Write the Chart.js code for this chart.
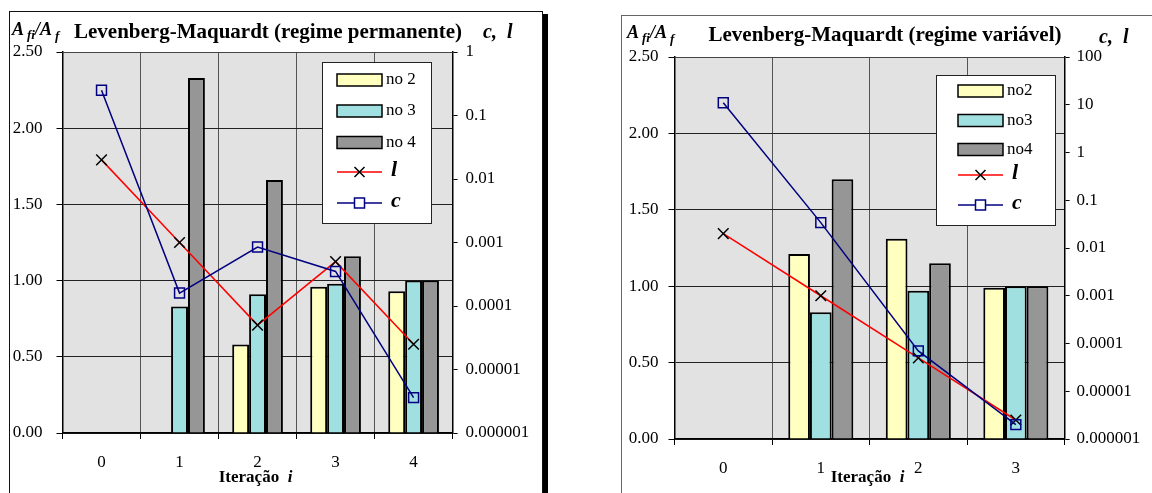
<!DOCTYPE html>
<html>
<head>
<meta charset="utf-8">
<script src="https://cdn.jsdelivr.net/npm/chart.js@4/dist/chart.umd.min.js"></script>
<style>
  html, body { margin:0; padding:0; background:#fff; }
  body { width:1152px; height:493px; overflow:hidden; position:relative; }
  .abs { position:absolute; }
</style>
</head>
<body>
<div class="abs" style="left:9px;top:11px;width:532px;height:520px;border:1px solid #111;"></div>
<div class="abs" style="left:543px;top:14px;width:5px;height:490px;background:#000;"></div>
<canvas id="c1" class="abs" width="532" height="481" style="left:10px;top:12px;"></canvas>
<div class="abs" style="left:621px;top:15px;width:600px;height:520px;border:1px solid #666;"></div>
<canvas id="c2" class="abs" width="530" height="477" style="left:622px;top:16px;"></canvas>
<script>
// ---------- data ----------
const iterLeft = ['0', '1', '2', '3', '4'];
const no2Left = [null, null, 0.58, 0.96, 0.93];
const no3Left = [null, 0.83, 0.91, 0.98, 1.00];
const no4Left = [null, 2.33, 1.66, 1.16, 1.00];
const lLeft = [0.02, 0.001, 0.00005, 0.0005, 0.000025];
const cLeft = [0.25, 0.00016, 0.00085, 0.00035, 0.0000036];

const iterRight = ['0', '1', '2', '3'];
const no2Right = [null, 1.21, 1.31, 0.99];
const no3Right = [null, 0.83, 0.97, 1.00];
const no4Right = [null, 1.70, 1.15, 1.00];
const lRight = [0.02, 0.001, 0.00005, 0.0000025];
const cRight = [11, 0.034, 0.00007, 0.000002];

const ratioTicks = ['0.00', '0.50', '1.00', '1.50', '2.00', '2.50'];
const logTicksLeft = ['1', '0.1', '0.01', '0.001', '0.0001', '0.00001', '0.000001'];
const logTicksRight = ['100', '10', '1', '0.1', '0.01', '0.001', '0.0001', '0.00001', '0.000001'];

const titleLeft = 'Levenberg-Maquardt (regime permanente)';
const titleRight = 'Levenberg-Maquardt (regime variável)';
const labelsLeft = ['no 2', 'no 3', 'no 4', 'l', 'c'];
const labelsRight = ['no2', 'no3', 'no4', 'l', 'c'];

// ---------- style ----------
const FONT = '"Liberation Serif", "Times New Roman", serif';
Chart.defaults.font.family = FONT;
Chart.defaults.color = '#000';
const COL_NO2 = '#FFFFC0', COL_NO3 = '#A0E0E0', COL_NO4 = '#969696';
const COL_L = '#FF0000', COL_C = '#000080';
const PLOT_BG = '#e2e2e2';

function drawRatioLabel(ctx, x, y) {
  ctx.textAlign = 'left'; ctx.textBaseline = 'alphabetic'; ctx.fillStyle = '#000';
  const big = 'italic bold 18px ' + FONT, small = 'italic bold 13px ' + FONT;
  ctx.font = big; ctx.fillText('A', x, y); x += ctx.measureText('A').width + 3;
  ctx.font = small; ctx.fillText('fi', x, y + 4); x += ctx.measureText('fi').width;
  ctx.font = big; ctx.fillText('/A', x, y); x += ctx.measureText('/A').width + 3;
  ctx.font = small; ctx.fillText('f', x, y + 5);
}

function decoPlugin(p) {
  return {
    id: 'deco',
    beforeDraw(chart) {
      const a = chart.chartArea, ctx = chart.ctx;
      ctx.save();
      ctx.fillStyle = PLOT_BG;
      ctx.fillRect(a.left, a.top, a.right - a.left, a.bottom - a.top);
      ctx.restore();
    },
    beforeDatasetsDraw(chart) {
      const a = chart.chartArea, ctx = chart.ctx;
      ctx.save();
      ctx.strokeStyle = '#444'; ctx.lineWidth = 1;
      ctx.beginPath(); ctx.moveTo(a.left, a.top + 0.5); ctx.lineTo(a.right, a.top + 0.5); ctx.stroke();
      ctx.restore();
    },
    afterDraw(chart) {
      const ctx = chart.ctx, a = chart.chartArea;
      ctx.save();
      // headers
      drawRatioLabel(ctx, p.ratioX, p.headY);
      ctx.font = 'bold 21px ' + FONT; ctx.textAlign = 'center'; ctx.fillStyle = '#000';
      ctx.fillText(p.title, p.titleX, p.titleY);
      ctx.font = 'italic bold 20px ' + FONT; ctx.textAlign = 'left';
      ctx.fillText('c,', p.clX, p.clY);
      ctx.fillText('l', p.clX + 24, p.clY);
      // x axis title
      ctx.font = 'bold 17px ' + FONT;
      const w1 = ctx.measureText('Iteração  ').width;
      ctx.font = 'italic bold 17px ' + FONT;
      const w2 = ctx.measureText('i').width;
      const cx = (a.left + a.right) / 2 - 2;
      let x0 = cx - (w1 + w2) / 2;
      ctx.font = 'bold 17px ' + FONT; ctx.fillText('Iteração  ', x0, p.xtY);
      ctx.font = 'italic bold 17px ' + FONT; ctx.fillText('i', x0 + w1, p.xtY);
      // legend
      const L = p.legend;
      ctx.fillStyle = '#fff'; ctx.fillRect(L.x, L.y, L.w, L.h);
      ctx.strokeStyle = '#222'; ctx.lineWidth = 1;
      ctx.strokeRect(L.x + 0.5, L.y + 0.5, L.w, L.h);
      chart.data.datasets.forEach((ds, i) => {
        const cy = L.rows[i];
        ctx.textBaseline = 'middle'; ctx.textAlign = 'left';
        if (ds.type === 'line') {
          ctx.strokeStyle = ds.borderColor; ctx.lineWidth = 1.5;
          ctx.beginPath(); ctx.moveTo(L.sx0, cy); ctx.lineTo(L.sx1, cy); ctx.stroke();
          const mx = (L.sx0 + L.sx1) / 2;
          ctx.strokeStyle = ds.pointBorderColor; ctx.lineWidth = 1.5;
          if (ds.pointStyle === 'crossRot') {
            ctx.beginPath();
            ctx.moveTo(mx - 5, cy - 5); ctx.lineTo(mx + 5, cy + 5);
            ctx.moveTo(mx + 5, cy - 5); ctx.lineTo(mx - 5, cy + 5);
            ctx.stroke();
          } else {
            ctx.fillStyle = '#fff'; ctx.fillRect(mx - 5, cy - 5, 10, 10);
            ctx.strokeRect(mx - 5, cy - 5, 10, 10);
          }
          ctx.fillStyle = '#000'; ctx.font = 'italic bold 22px ' + FONT;
          ctx.fillText(ds.label, L.tx + 5, cy - 2);
        } else {
          ctx.fillStyle = ds.backgroundColor;
          ctx.fillRect(L.sx0, cy - 6, L.sx1 - L.sx0, 12);
          ctx.strokeStyle = '#000'; ctx.lineWidth = 1.5;
          ctx.strokeRect(L.sx0, cy - 6, L.sx1 - L.sx0, 12);
          ctx.fillStyle = '#000'; ctx.font = '17px ' + FONT;
          ctx.fillText(ds.label, L.tx, cy);
        }
      });
      ctx.restore();
    }
  };
}

function makeChart(id, cfg) {
  const logVals = cfg.logTicks.map(parseFloat);
  const datasets = [
    { type: 'bar', label: cfg.labels[0], data: cfg.no2, backgroundColor: COL_NO2, borderColor: '#000', borderWidth: 2, yAxisID: 'y', order: 3 },
    { type: 'bar', label: cfg.labels[1], data: cfg.no3, backgroundColor: COL_NO3, borderColor: '#000', borderWidth: 2, yAxisID: 'y', order: 3 },
    { type: 'bar', label: cfg.labels[2], data: cfg.no4, backgroundColor: COL_NO4, borderColor: '#000', borderWidth: 2, yAxisID: 'y', order: 3 },
    { type: 'line', label: cfg.labels[3], data: cfg.l, borderColor: COL_L, borderWidth: 1.5, yAxisID: 'y1', order: 2,
      pointStyle: 'crossRot', pointRadius: 7.5, pointBorderColor: '#000', pointBorderWidth: 1.5, pointBackgroundColor: 'rgba(0,0,0,0)', fill: false, tension: 0 },
    { type: 'line', label: cfg.labels[4], data: cfg.c, borderColor: COL_C, borderWidth: 1.5, yAxisID: 'y1', order: 1,
      pointStyle: 'rect', pointRadius: 7, pointBorderColor: COL_C, pointBorderWidth: 1.5, pointBackgroundColor: 'rgba(0,0,0,0)', fill: false, tension: 0 }
  ];
  datasets.slice(0, 3).forEach(d => { d.categoryPercentage = cfg.catPct; d.barPercentage = 1.0; });
  return new Chart(document.getElementById(id), {
    data: { labels: cfg.categories, datasets },
    options: {
      responsive: false, animation: false, devicePixelRatio: 1,
      layout: { padding: { top: cfg.padTop, left: 0, right: 0, bottom: 0 } },
      plugins: { legend: { display: false }, tooltip: { enabled: false }, title: { display: false } },
      scales: {
        x: {
          type: 'category', offset: true,
          grid: { offset: true, color: '#555', lineWidth: 1, drawTicks: true, tickLength: 6, tickColor: '#000' },
          border: { display: true, color: '#000', width: 1.5 },
          ticks: { color: '#000', font: { size: 17 }, padding: 13, maxRotation: 0 },
          afterFit: s => { s.height = cfg.xHeight; }
        },
        y: {
          type: 'linear', position: 'left', min: 0, max: 2.5,
          afterBuildTicks: s => { s.ticks = cfg.ratioTicks.map(t => ({ value: parseFloat(t) })); },
          ticks: { color: '#000', font: { size: 17 }, padding: cfg.yPad,
            callback: (v) => cfg.ratioTicks.find(t => Math.abs(parseFloat(t) - v) < 1e-9) },
          grid: { color: '#222', lineWidth: 1, tickLength: 6, tickColor: '#000' },
          border: { display: true, color: '#000', width: 1.5 },
          afterFit: s => { s.width = cfg.yWidth; }
        },
        y1: {
          type: 'logarithmic', position: 'right', min: logVals[logVals.length - 1], max: logVals[0],
          afterBuildTicks: s => { s.ticks = logVals.slice().reverse().map(v => ({ value: v, major: true })); },
          ticks: { color: '#000', font: { size: 17 }, padding: cfg.y1Pad, autoSkip: false,
            callback: (v) => cfg.logTicks.find(t => Math.abs(Math.log10(parseFloat(t)) - Math.log10(v)) < 1e-6) },
          grid: { drawOnChartArea: false, tickLength: 5, tickColor: '#000' },
          border: { display: true, color: '#000', width: 1.5 },
          afterFit: s => { s.width = cfg.y1Width; }
        }
      }
    },
    plugins: [decoPlugin(cfg.deco)]
  });
}

makeChart('c1', {
  categories: iterLeft, no2: no2Left, no3: no3Left, no4: no4Left, l: lLeft, c: cLeft,
  labels: labelsLeft, ratioTicks: ratioTicks, logTicks: logTicksLeft, catPct: 0.65,
  padTop: 40, xHeight: 60, yWidth: 52.5, y1Width: 89.4, yPad: 14, y1Pad: 8,
  deco: { title: titleLeft, titleX: 258, titleY: 26, ratioX: 2, headY: 23, clX: 473, clY: 26, xtY: 470,
    legend: { x: 312, y: 50, w: 109, h: 161, sx0: 327, sx1: 372, tx: 376, rows: [68, 99, 130.5, 160, 191] } }
});
makeChart('c2', {
  categories: iterRight, no2: no2Right, no3: no3Right, no4: no4Right, l: lRight, c: cRight,
  labels: labelsRight, ratioTicks: ratioTicks, logTicks: logTicksRight, catPct: 0.667,
  padTop: 41, xHeight: 54, yWidth: 52.5, y1Width: 87.4, yPad: 10, y1Pad: 7,
  deco: { title: titleRight, titleX: 263, titleY: 25, ratioX: 5, headY: 22, clX: 477, clY: 27, xtY: 466,
    legend: { x: 314, y: 59, w: 119, h: 150, sx0: 336, sx1: 381, tx: 385, rows: [75, 104.5, 133.5, 159, 189] } }
});
</script>
</body>
</html>
